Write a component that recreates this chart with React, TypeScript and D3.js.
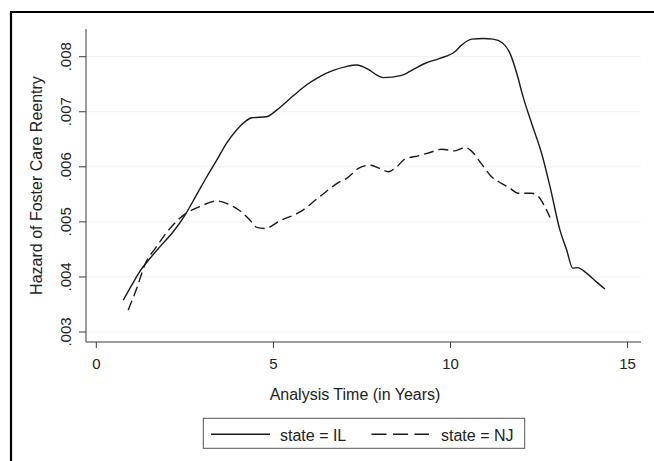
import React from "react";
import * as d3 from "d3";

const ilTime = [0.76, 1.0, 1.23, 1.52, 1.8, 2.17, 2.5, 2.83, 3.12, 3.4, 3.68, 3.96, 4.2, 4.39, 4.81, 5.09, 5.56, 5.94, 6.31, 6.69, 7.05, 7.35, 7.68, 7.91, 8.1, 8.62, 8.95, 9.32, 9.7, 10.12, 10.31, 10.6, 10.92, 11.2, 11.47, 11.68, 11.87, 12.05, 12.29, 12.57, 12.81, 13.09, 13.28, 13.45, 13.58, 13.84, 14.12, 14.36];
const ilHazard = [0.00358, 0.00385, 0.0041, 0.00434, 0.00455, 0.00482, 0.00512, 0.00549, 0.00582, 0.00612, 0.00643, 0.00667, 0.00682, 0.00689, 0.00691, 0.00703, 0.00729, 0.00749, 0.00764, 0.00775, 0.00782, 0.00785, 0.00777, 0.00767, 0.00762, 0.00766, 0.00777, 0.00789, 0.00797, 0.00809, 0.00821, 0.00832, 0.00833, 0.00832, 0.00825, 0.00806, 0.0077, 0.00727, 0.00679, 0.00625, 0.00564, 0.00485, 0.00449, 0.00416, 0.00417, 0.00407, 0.00391, 0.00378];

const njTime = [0.9, 1.14, 1.37, 1.7, 2.08, 2.5, 2.93, 3.4, 3.77, 4.1, 4.34, 4.53, 4.76, 5.18, 5.75, 6.31, 6.88, 7.07, 7.4, 7.73, 8.01, 8.24, 8.48, 8.71, 9.09, 9.42, 9.75, 10.12, 10.41, 10.6, 10.88, 11.16, 11.44, 11.68, 11.91, 12.29, 12.48, 12.66, 12.81];
const njHazard = [0.0034, 0.00379, 0.00422, 0.00455, 0.00488, 0.00514, 0.00528, 0.00538, 0.00531, 0.00518, 0.00503, 0.0049, 0.00488, 0.00502, 0.00518, 0.00546, 0.00573, 0.00579, 0.00597, 0.00603, 0.00597, 0.00591, 0.006, 0.00614, 0.0062, 0.00626, 0.00632, 0.00629, 0.00635, 0.00628, 0.00605, 0.00582, 0.0057, 0.00561, 0.00552, 0.00552, 0.00546, 0.00528, 0.00508];

const xTicks = [0, 5, 10, 15];
const yTicks = [0.003, 0.004, 0.005, 0.006, 0.007, 0.008];
const yTickLabels = [".003", ".004", ".005", ".006", ".007", ".008"];
const seriesLabels = ["state = IL", "state = NJ"];

const FONT = "'Liberation Sans', Arial, Helvetica, sans-serif";

export default function App() {
  const W = 654, H = 461;
  const plotLeft = 86, plotRight = 641, plotTop = 29, plotBottom = 342;
  const x = d3.scaleLinear().domain([0, 15]).range([96.3, 627.6]);
  const y = d3.scaleLinear().domain([0.003, 0.008]).range([332, 56.7]);

  const line = d3
    .line<[number, number]>()
    .x((d) => x(d[0]))
    .y((d) => y(d[1]))
    .curve(d3.curveMonotoneX);

  const ilData: [number, number][] = ilTime.map((t, i) => [t, ilHazard[i]]);
  const njData: [number, number][] = njTime.map((t, i) => [t, njHazard[i]]);

  const ink = "#1a1a1a";
  const axisColor = "#3a3a3a";

  return (
    <svg
      width={W}
      height={H}
      style={{ position: "absolute", left: 0, top: 0, background: "#fff" }}
      fontFamily={FONT}
    >
      <rect x={0} y={0} width={W} height={H} fill="#fff" />
      {/* outer frame (top & left visible) */}
      <line x1={10} y1={12} x2={W} y2={12} stroke="#000" strokeWidth={2.2} />
      <line x1={11} y1={11} x2={11} y2={H} stroke="#000" strokeWidth={2.2} />

      {/* gridlines */}
      {yTicks.map((v) => (
        <line key={"g" + v} x1={plotLeft} x2={plotRight} y1={y(v)} y2={y(v)} stroke="#efefef" strokeWidth={1} />
      ))}

      {/* y axis */}
      <line x1={plotLeft} x2={plotLeft} y1={plotTop} y2={plotBottom} stroke={axisColor} strokeWidth={1} />
      {yTicks.map((v, i) => (
        <g key={"yt" + v}>
          <line x1={plotLeft - 7} x2={plotLeft} y1={y(v)} y2={y(v)} stroke={axisColor} strokeWidth={1} />
          <text
            transform={`translate(70.7,${y(v)}) rotate(-90)`}
            textAnchor="middle"
            fontSize={15}
            fill="#222"
          >
            {yTickLabels[i]}
          </text>
        </g>
      ))}
      <text
        transform={`translate(41.5,${(plotTop + plotBottom) / 2}) rotate(-90)`}
        textAnchor="middle"
        fontSize={16}
        fill="#222"
      >
        Hazard of Foster Care Reentry
      </text>

      {/* x axis */}
      <line x1={plotLeft} x2={plotRight} y1={plotBottom} y2={plotBottom} stroke={axisColor} strokeWidth={1} />
      {xTicks.map((t) => (
        <g key={"xt" + t}>
          <line x1={x(t)} x2={x(t)} y1={plotBottom} y2={plotBottom + 6} stroke={axisColor} strokeWidth={1} />
          <text x={x(t)} y={369.3} textAnchor="middle" fontSize={15} fill="#222">
            {t}
          </text>
        </g>
      ))}
      <text x={355} y={400} textAnchor="middle" fontSize={16} fill="#222">
        Analysis Time (in Years)
      </text>

      {/* series */}
      <path d={line(ilData) || ""} fill="none" stroke={ink} strokeWidth={1.4} />
      <path d={line(njData) || ""} fill="none" stroke={ink} strokeWidth={1.4} strokeDasharray="10,5" />

      {/* legend */}
      <rect x={203.3} y={418.3} width={321.4} height={30} fill="#fff" stroke="#555" strokeWidth={1} />
      <line x1={211} x2={270} y1={434.3} y2={434.3} stroke={ink} strokeWidth={1.4} />
      <text x={280} y={441} fontSize={16} fill="#222">
        {seriesLabels[0]}
      </text>
      <line x1={371.5} x2={429} y1={434.3} y2={434.3} stroke={ink} strokeWidth={1.4} strokeDasharray="15,6.5" />
      <text x={441} y={441} fontSize={16} fill="#222">
        {seriesLabels[1]}
      </text>
    </svg>
  );
}
